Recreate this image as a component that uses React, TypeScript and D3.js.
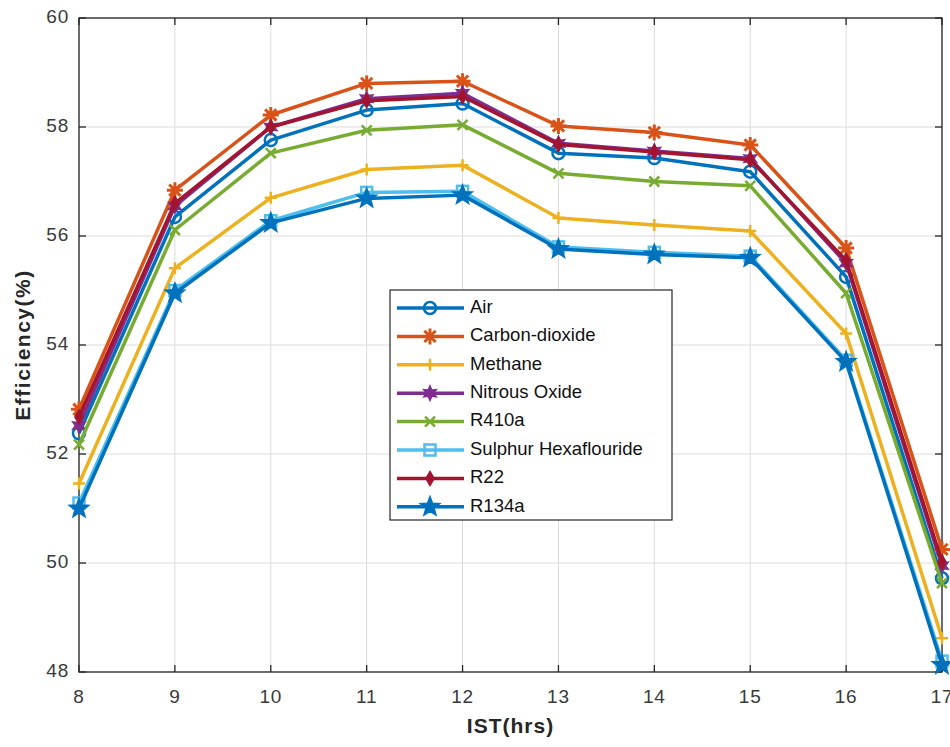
import React from 'react';
import * as d3 from 'd3';

const hours = [8, 9, 10, 11, 12, 13, 14, 15, 16, 17];
const air = [52.38, 56.35, 57.76, 58.31, 58.43, 57.52, 57.43, 57.18, 55.25, 49.72];
const carbonDioxide = [52.82, 56.84, 58.22, 58.8, 58.84, 58.02, 57.9, 57.67, 55.78, 50.25];
const methane = [51.46, 55.41, 56.7, 57.22, 57.3, 56.33, 56.2, 56.09, 54.21, 48.62];
const nitrousOxide = [52.52, 56.55, 58.0, 58.52, 58.62, 57.7, 57.56, 57.42, 55.5, 49.95];
const r410a = [52.17, 56.11, 57.52, 57.94, 58.04, 57.15, 57.0, 56.92, 54.95, 49.63];
const sulphurHex = [51.1, 55.0, 56.28, 56.8, 56.82, 55.8, 55.7, 55.63, 53.72, 48.2];
const r22 = [52.68, 56.6, 58.0, 58.48, 58.56, 57.68, 57.54, 57.4, 55.55, 50.02];
const r134a = [51.0, 54.95, 56.24, 56.69, 56.75, 55.76, 55.66, 55.6, 53.69, 48.13];

const seriesNames = ['Air', 'Carbon-dioxide', 'Methane', 'Nitrous Oxide', 'R410a', 'Sulphur Hexaflouride', 'R22', 'R134a'];
const seriesValues = [air, carbonDioxide, methane, nitrousOxide, r410a, sulphurHex, r22, r134a];
const seriesColors = ['#0072BD', '#D95319', '#EDB120', '#7E2F8E', '#77AC30', '#4DBEEE', '#A2142F', '#0072BD'];
const seriesMarkers = ['circle', 'asterisk', 'plus', 'hexagram', 'cross', 'square', 'diamond', 'pentagram'];

const xTicks = [8, 9, 10, 11, 12, 13, 14, 15, 16, 17];
const yTicks = [48, 50, 52, 54, 56, 58, 60];

const W = 950;
const H = 747;
const left = 79, right = 942, top = 18, bottom = 672;
const font = '"Liberation Sans", Arial, Helvetica, sans-serif';

const starPath = (points: number, outer: number, inner: number) => {
  const pts: [number, number][] = [];
  for (let i = 0; i < points * 2; i++) {
    const r = i % 2 === 0 ? outer : inner;
    const a = -Math.PI / 2 + (i * Math.PI) / points;
    pts.push([r * Math.cos(a), r * Math.sin(a)]);
  }
  return d3.line()(pts) + 'Z';
};

function Marker({ type, x, y, color }: { type: string; x: number; y: number; color: string }) {
  const common = { fill: 'none', stroke: color, strokeWidth: 2.5 };
  const t = `translate(${x},${y})`;
  switch (type) {
    case 'circle':
      return <circle cx={x} cy={y} r={6} {...common} />;
    case 'asterisk': {
      const r = 8, d = r * Math.SQRT1_2;
      return (
        <path transform={t} {...common} strokeWidth={3}
          d={`M${-r},0L${r},0M0,${-r}L0,${r}M${-d},${-d}L${d},${d}M${-d},${d}L${d},${-d}`} />
      );
    }
    case 'plus':
      return <path transform={t} {...common} d="M-6,0L6,0M0,-6L0,6" />;
    case 'cross':
      return <path transform={t} {...common} d="M-5,-5L5,5M-5,5L5,-5" />;
    case 'square':
      return <rect x={x - 5.5} y={y - 5.5} width={11} height={11} {...common} />;
    case 'diamond':
      return <path transform={t} {...common} fill={color} d="M0,-6L3.5,0L0,6L-3.5,0Z" />;
    case 'hexagram':
      return <path transform={t} {...common} fill={color} d={starPath(6, 6, 3)} />;
    case 'pentagram':
      return <path transform={t} {...common} fill={color} strokeWidth={2} d={starPath(5, 9.5, 4)} />;
    default:
      return null;
  }
}

export default function App() {
  const x = d3.scaleLinear().domain([8, 17]).range([left, right]);
  const y = d3.scaleLinear().domain([48, 60]).range([bottom, top]);
  const line = d3.line<number>().x((_, i) => x(hours[i])).y((d) => y(d));

  const legendX = 390, legendY = 290, legendW = 282, legendH = 230;
  const rowH = 28.4;

  return (
    <svg width={W} height={H} style={{ position: 'absolute', left: 0, top: 0, background: '#fff' }}
      fontFamily={font}>
      <rect x={0} y={0} width={W} height={H} fill="#fff" />
      {/* grid */}
      {xTicks.map((t) => (
        <line key={'gx' + t} x1={x(t)} x2={x(t)} y1={top} y2={bottom} stroke="#dcdcdc" strokeWidth={1} />
      ))}
      {yTicks.map((t) => (
        <line key={'gy' + t} x1={left} x2={right} y1={y(t)} y2={y(t)} stroke="#dcdcdc" strokeWidth={1} />
      ))}
      {/* box & ticks */}
      <rect x={left} y={top} width={right - left} height={bottom - top} fill="none" stroke="#262626" strokeWidth={1.3} />
      {xTicks.map((t) => (
        <g key={'tx' + t}>
          <line x1={x(t)} x2={x(t)} y1={bottom} y2={bottom - 7} stroke="#262626" strokeWidth={1.3} />
          <line x1={x(t)} x2={x(t)} y1={top} y2={top + 7} stroke="#262626" strokeWidth={1.3} />
          <text x={x(t)} y={698} textAnchor="middle" dominantBaseline="middle" fontSize={19}
            letterSpacing={0.8} fill="#3a3a3a">{t}</text>
        </g>
      ))}
      {yTicks.map((t) => (
        <g key={'ty' + t}>
          <line x1={left} x2={left + 7} y1={y(t)} y2={y(t)} stroke="#262626" strokeWidth={1.3} />
          <line x1={right} x2={right - 7} y1={y(t)} y2={y(t)} stroke="#262626" strokeWidth={1.3} />
          <text x={69} y={y(t)} textAnchor="end" dominantBaseline="middle" fontSize={19}
            letterSpacing={0.8} fill="#3a3a3a">{t}</text>
        </g>
      ))}
      {/* series */}
      {seriesValues.map((vals, si) => (
        <g key={'s' + si}>
          <path d={line(vals) || ''} fill="none" stroke={seriesColors[si]} strokeWidth={3.5} strokeLinejoin="round" />
          {vals.map((v, i) => (
            <Marker key={i} type={seriesMarkers[si]} x={x(hours[i])} y={y(v)} color={seriesColors[si]} />
          ))}
        </g>
      ))}
      {/* axis labels */}
      <text x={(left + right) / 2} y={727} textAnchor="middle" dominantBaseline="middle" fontSize={21}
        letterSpacing={1} fontWeight="bold" fill="#262626">IST(hrs)</text>
      <text transform={`translate(24,${(top + bottom) / 2}) rotate(-90)`} textAnchor="middle"
        dominantBaseline="middle" fontSize={21} letterSpacing={1.5} fontWeight="bold" fill="#262626">Efficiency(%)</text>
      {/* legend */}
      <rect x={legendX} y={legendY} width={legendW} height={legendH} fill="#fff" stroke="#262626" strokeWidth={1.2} />
      {seriesNames.map((name, i) => {
        const ry = 308 + i * rowH;
        return (
          <g key={'l' + i}>
            <line x1={397} x2={464} y1={ry} y2={ry} stroke={seriesColors[i]} strokeWidth={3.5} />
            <Marker type={seriesMarkers[i]} x={430} y={ry} color={seriesColors[i]} />
            <text x={470} y={ry} dominantBaseline="middle" fontSize={18.5} fill="#111">{name}</text>
          </g>
        );
      })}
    </svg>
  );
}
